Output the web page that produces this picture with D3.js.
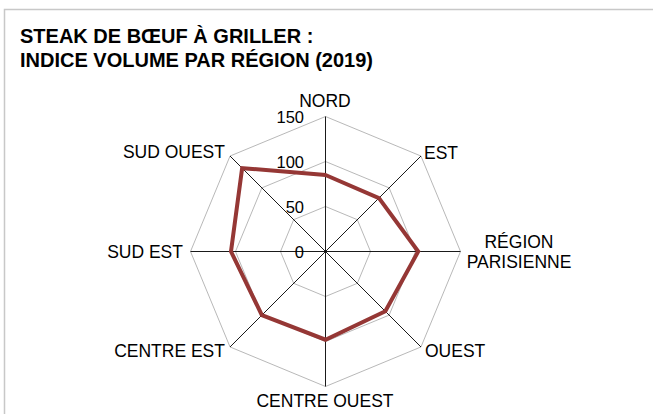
<!DOCTYPE html>
<html>
<head>
<meta charset="utf-8">
<script src="https://cdn.jsdelivr.net/npm/d3@7"></script>
<style>
    body { margin: 0; background: #fff; }
    text { font-family: "Liberation Sans", Arial, sans-serif; fill: #000; }
</style>
</head>
<body>
<div class="radar"></div>
<script>
var regions = ["NORD", "EST", "RÉGION PARISIENNE", "OUEST", "CENTRE OUEST", "CENTRE EST", "SUD EST", "SUD OUEST"];
var indiceVolume = [85, 84, 103, 94, 98, 100, 105, 131];
var gridLevels = [0, 50, 100, 150];
var titleLines = ["STEAK DE BŒUF À GRILLER :", "INDICE VOLUME PAR RÉGION (2019)"];

var width = 653, height = 414;
var cx = 325.5, cy = 251.5, radius = 135;

var svg = d3.select(".radar").append("svg")
    .attr("width", width)
    .attr("height", height);

// frame (only top and left edges show)
svg.append("path")
    .attr("d", "M4.5," + height + "V9.5H" + width)
    .attr("fill", "none")
    .attr("stroke", "#c8c8c8")
    .attr("stroke-width", 1.5);

// Title
svg.append("text")
    .attr("x", 20)
    .attr("font-size", 20)
    .attr("font-weight", "bold")
    .selectAll("tspan")
    .data(titleLines)
    .enter().append("tspan")
    .attr("x", 20)
    .attr("y", function (d, i) { return 43 + i * 24; })
    .text(function (d) { return d; });

// Scales
var r = d3.scaleLinear().domain([0, 150]).range([0, radius]);
var angle = d3.scalePoint().domain(regions).range([0, 2 * Math.PI * (regions.length - 1) / regions.length]);

function pt(region, value) {
    var a = angle(region);
    return [cx + r(value) * Math.sin(a), cy - r(value) * Math.cos(a)];
}

var g = svg.append("g");

// grid octagons
g.selectAll(".ring")
    .data(gridLevels.slice(1))
    .enter().append("polygon")
    .attr("class", "ring")
    .attr("points", function (lvl) {
        return regions.map(function (reg) { return pt(reg, lvl).join(","); }).join(" ");
    })
    .attr("fill", "none")
    .attr("stroke", "#a6a6a6")
    .attr("stroke-width", 0.8);

// spokes
g.selectAll(".spoke")
    .data(regions)
    .enter().append("line")
    .attr("class", "spoke")
    .attr("x1", cx).attr("y1", cy)
    .attr("x2", function (d) { return pt(d, 150)[0]; })
    .attr("y2", function (d) { return pt(d, 150)[1]; })
    .attr("stroke", "#000")
    .attr("stroke-width", 0.9);

// tick labels
g.selectAll(".tick")
    .data(gridLevels)
    .enter().append("text")
    .attr("class", "tick")
    .attr("x", cx - 21.5)
    .attr("y", function (d) { return cy - r(d) + 6.5; })
    .attr("text-anchor", "end")
    .attr("font-size", 16.5)
    .text(function (d) { return d; });

// the series
var line = d3.line().curve(d3.curveLinearClosed);
g.append("path")
    .datum(regions.map(function (reg, i) { return pt(reg, indiceVolume[i]); }))
    .attr("d", line)
    .attr("fill", "none")
    .attr("stroke", "#953735")
    .attr("stroke-width", 4)
    .attr("stroke-linejoin", "miter");

// category labels
var labelPos = {
    "NORD": [325, 107, "middle"],
    "EST": [424, 159, "start"],
    "RÉGION PARISIENNE": [519, 248, "middle"],
    "OUEST": [425, 357, "start"],
    "CENTRE OUEST": [325, 407, "middle"],
    "CENTRE EST": [225, 357, "end"],
    "SUD EST": [183, 258, "end"],
    "SUD OUEST": [225, 158, "end"]
};

g.selectAll(".cat")
    .data(regions)
    .enter().append("text")
    .attr("class", "cat")
    .attr("text-anchor", function (d) { return labelPos[d][2]; })
    .attr("font-size", 17.5)
    .each(function (d) {
        var words = d == "RÉGION PARISIENNE" ? ["RÉGION", "PARISIENNE"] : [d];
        d3.select(this).selectAll("tspan")
            .data(words)
            .enter().append("tspan")
            .attr("x", labelPos[d][0])
            .attr("y", function (w, i) { return labelPos[d][1] + i * 20; })
            .text(function (w) { return w; });
    });
</script>
</body>
</html>
